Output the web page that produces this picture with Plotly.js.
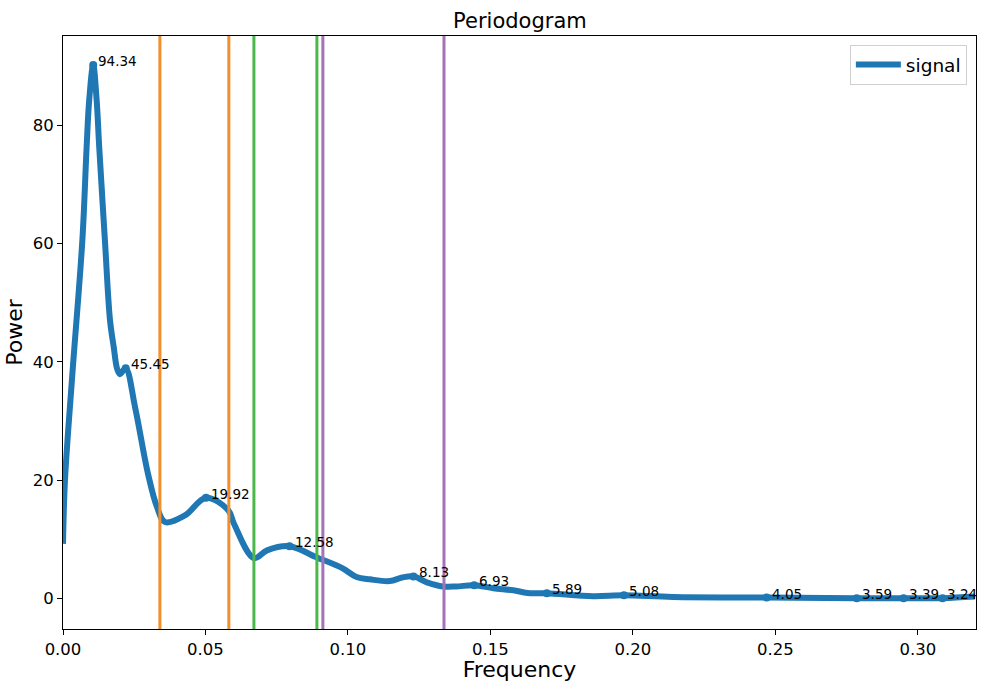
<!DOCTYPE html>
<html>
<head>
<meta charset="utf-8">
<script src="https://cdn.plot.ly/plotly-3.0.1.min.js"></script>
<style>
  html, body { margin: 0; padding: 0; background: #fff; }
  #chart { width: 981px; height: 682px; }
</style>
</head>
<body>
<div id="chart"></div>
<script>
// Smoothed periodogram of the signal
const frequency = [0.0000, 0.0007, 0.0033, 0.0068, 0.0083, 0.0092, 0.0106, 0.0118, 0.0127,
  0.0147, 0.0165, 0.0178, 0.0190, 0.0200, 0.0220, 0.0253, 0.0298, 0.0330, 0.0358, 0.0428, 0.0502,
  0.0580, 0.0600, 0.0670, 0.0716, 0.0795, 0.0891, 0.0980, 0.1030, 0.1077, 0.1147,
  0.1190, 0.1230, 0.1277, 0.1334, 0.1380, 0.1443, 0.1510, 0.1580, 0.1630, 0.1698,
  0.1860, 0.1969, 0.2140, 0.2469, 0.2786, 0.2950, 0.3086, 0.3200];
const power = [9.2, 20.0, 38.0, 60.6, 76.4, 84.3, 90.2, 84.3, 76.4,
  60.6, 47.0, 42.5, 38.8, 37.9, 38.9, 32.3, 21.1, 15.4, 12.9, 14.0, 17.0,
  14.9, 12.6, 6.8, 8.1, 8.8, 6.9, 5.1, 3.6, 3.2, 2.9,
  3.5, 3.7, 2.7, 2.0, 2.0, 2.2, 1.7, 1.35, 0.9, 0.85,
  0.35, 0.5, 0.2, 0.12, 0.02, 0.02, 0.02, 0.3];

// Local maxima, labelled by their period (1 / frequency)
const peakPeriod = [94.34, 45.45, 19.92, 12.58, 8.13, 6.93, 5.89, 5.08, 4.05, 3.59, 3.39, 3.24];
const peakPower = [90.2, 38.9, 17.0, 8.8, 3.7, 2.2, 0.85, 0.5, 0.12, 0.02, 0.02, 0.02];

// Band edges shown as vertical lines
const bandEdges = [0.0340, 0.0582, 0.0670, 0.0891, 0.0912, 0.1337];
const bandColors = ['#f28e2b', '#f28e2b', '#4cb84c', '#4cb84c', '#a472b6', '#a472b6'];

const xTicks = [0.00, 0.05, 0.10, 0.15, 0.20, 0.25, 0.30];
const yTicks = [0, 20, 40, 60, 80];

const blue = '#1f77b4';
const peakFreq = peakPeriod.map(p => 1 / p);

const traces = [
  {
    x: frequency, y: power, type: 'scatter', mode: 'lines', name: 'signal',
    line: { color: blue, width: 6, shape: 'spline', smoothing: 1 }
  },
  {
    x: peakFreq, y: peakPower, type: 'scatter', mode: 'markers', showlegend: false,
    marker: { color: blue, size: 8 }, hoverinfo: 'skip'
  }
];

const shapes = bandEdges.map((f, i) => ({
  type: 'line', xref: 'x', yref: 'paper', x0: f, x1: f, y0: 0, y1: 1,
  line: { color: bandColors[i], width: 3 }, layer: 'above'
}));

const annotations = peakPeriod.map((p, i) => ({
  x: peakFreq[i], y: peakPower[i], xref: 'x', yref: 'y',
  text: p.toFixed(2), showarrow: false, xanchor: 'left', yanchor: 'middle',
  xshift: 3, yshift: 4,
  font: { family: 'DejaVu Sans', size: 13.5, color: '#000' }
}));

const axisCommon = {
  showgrid: false, zeroline: false, showline: true, mirror: true,
  linecolor: '#000', linewidth: 1, ticks: 'outside', ticklen: 5, tickwidth: 1,
  tickcolor: '#000', tickfont: { family: 'DejaVu Sans', size: 16.5, color: '#000' }
};

const layout = {
  width: 981, height: 682,
  margin: { l: 63, r: 5, t: 36, b: 53 },
  paper_bgcolor: '#fff', plot_bgcolor: '#fff',
  font: { family: 'DejaVu Sans', color: '#000' },
  title: { text: 'Periodogram', font: { family: 'DejaVu Sans', size: 21, color: '#000' },
           x: 0.53, xanchor: 'center', y: 0.969, yanchor: 'middle' },
  xaxis: Object.assign({}, axisCommon, {
    range: [0, 0.3204], tickvals: xTicks, tickformat: '.2f',
    title: { text: 'Frequency', font: { family: 'DejaVu Sans', size: 22, color: '#000' }, standoff: 1 }
  }),
  yaxis: Object.assign({}, axisCommon, {
    range: [-5.2, 95.1], tickvals: yTicks,
    title: { text: 'Power', font: { family: 'DejaVu Sans', size: 22, color: '#000' }, standoff: 4 }
  }),
  legend: {
    x: 0.99, xanchor: 'right', y: 0.985, yanchor: 'top',
    bgcolor: '#fff', bordercolor: '#d0d0d0', borderwidth: 1, itemwidth: 45,
    font: { family: 'DejaVu Sans', size: 18.5, color: '#000' }
  },
  shapes: shapes,
  annotations: annotations
};

Plotly.newPlot('chart', traces, layout, { displayModeBar: false, staticPlot: true });
</script>
</body>
</html>
